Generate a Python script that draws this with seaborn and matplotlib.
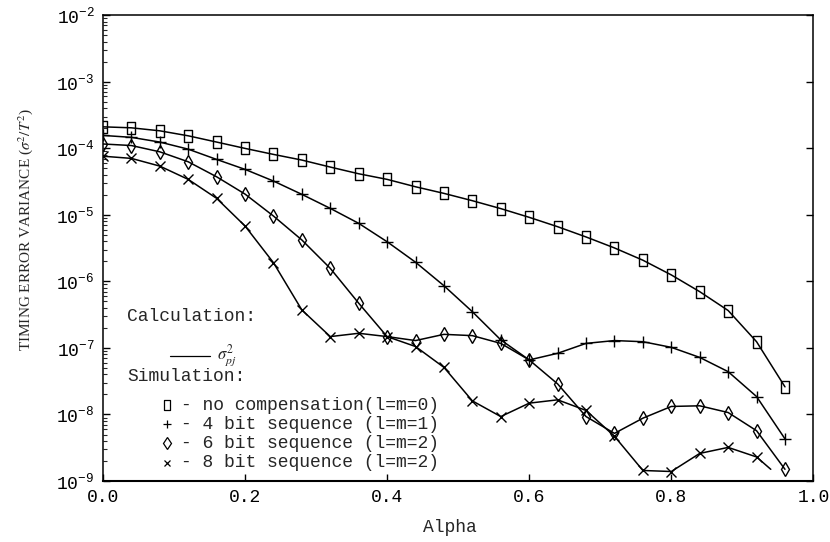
import numpy as np
import pandas as pd
import matplotlib
matplotlib.use('Agg')
import matplotlib.pyplot as plt
from matplotlib.path import Path
from matplotlib.ticker import LogLocator, FixedLocator, NullFormatter
import seaborn as sns

# values
alpha = [0.00, 0.04, 0.08, 0.12, 0.16, 0.20, 0.24, 0.28, 0.32, 0.36,
         0.40, 0.44, 0.48, 0.52, 0.56, 0.60, 0.64, 0.68, 0.72, 0.76,
         0.80, 0.84, 0.88, 0.92, 0.96]

no_comp = [2.10e-4, 2.03e-4, 1.83e-4, 1.54e-4, 1.24e-4, 9.96e-5, 8.09e-5, 6.65e-5,
           5.22e-5, 4.14e-5, 3.41e-5, 2.64e-5, 2.10e-5, 1.63e-5, 1.24e-5, 9.17e-6,
           6.63e-6, 4.65e-6, 3.18e-6, 2.08e-6, 1.25e-6, 7.0e-7, 3.65e-7, 1.24e-7, 2.6e-8]

bit4 = [1.56e-4, 1.46e-4, 1.24e-4, 9.7e-5, 6.8e-5, 4.82e-5, 3.22e-5, 2.03e-5,
        1.25e-5, 7.45e-6, 3.94e-6, 1.94e-6, 8.6e-7, 3.5e-7, 1.32e-7, 6.6e-8,
        8.3e-8, 1.17e-7, 1.29e-7, 1.24e-7, 1.02e-7, 7.2e-8, 4.4e-8, 1.86e-8, 4.3e-9]

bit6 = [1.16e-4, 1.10e-4, 8.85e-5, 6.27e-5, 3.73e-5, 2.05e-5, 9.6e-6, 4.19e-6,
        1.57e-6, 4.7e-7, 1.48e-7, 1.29e-7, 1.6e-7, 1.53e-7, 1.17e-7, 6.6e-8,
        2.88e-8, 9.3e-9, 5.2e-9, 8.8e-9, 1.32e-8, 1.35e-8, 1.07e-8, 5.7e-9, 1.5e-9]

# 8 bit simulation stops at 0.92, its calculated curve runs on to 0.94
bit8 = [7.6e-5, 7.05e-5, 5.4e-5, 3.41e-5, 1.77e-5, 6.8e-6, 1.91e-6, 3.72e-7,
        1.48e-7, 1.66e-7, 1.48e-7, 1.05e-7, 5.1e-8, 1.6e-8, 9.3e-9, 1.48e-8,
        1.66e-8, 1.15e-8, 4.7e-9, 1.44e-9, 1.39e-9, 2.6e-9, 3.2e-9, 2.3e-9]
bit8_calc_end = (0.94, 1.5e-9)

x_ticks = [0.0, 0.2, 0.4, 0.6, 0.8, 1.0]
y_ticks = [1e-9, 1e-8, 1e-7, 1e-6, 1e-5, 1e-4, 1e-3, 1e-2]

labels = ['- no compensation(l=m=0)',
          '- 4 bit sequence (l=m=1)',
          '- 6 bit sequence (l=m=2)',
          '- 8 bit sequence (l=m=2)']

# tall open rectangle like the scanned square marker
rect = Path([(-0.35, -0.5), (0.35, -0.5), (0.35, 0.5), (-0.35, 0.5), (-0.35, -0.5)],
            [Path.MOVETO, Path.LINETO, Path.LINETO, Path.LINETO, Path.CLOSEPOLY])

sns.set_style('ticks')
plt.rcParams['font.family'] = ['Liberation Mono', 'DejaVu Sans']
plt.rcParams['mathtext.fontset'] = 'stix'

fig = plt.figure(figsize=(8.3, 5.42), dpi=100)
ax = fig.add_axes([0.124, 0.1125, 0.856, 0.8595])

series = [
    (alpha, no_comp, alpha, no_comp, rect, 8, 1.0),
    (alpha, bit4, alpha, bit4, '+', 8, 1.0),
    (alpha, bit6, alpha, bit6, 'd', 7.5, 1.0),
    (alpha[:len(bit8)] + [bit8_calc_end[0]], bit8 + [bit8_calc_end[1]],
     alpha[:len(bit8)], bit8, 'x', 7, 1.0),
]

for lx, ly, sx, sy, mk, ms, mew in series:
    calc = pd.DataFrame({'Alpha': lx, 'Var': ly})
    sim = pd.DataFrame({'Alpha': sx, 'Var': sy})
    sns.lineplot(data=calc, x='Alpha', y='Var', color='black', lw=1.1, ax=ax)
    sns.lineplot(data=sim, x='Alpha', y='Var', color='black', ls='none',
                 marker=mk, markersize=ms, markerfacecolor='none',
                 markeredgecolor='black', markeredgewidth=mew, ax=ax)

ax.set_yscale('log')
ax.set_xlim(0, 1.0)
ax.set_ylim(1e-9, 1e-2)
ax.xaxis.set_major_locator(FixedLocator(x_ticks))
ax.set_xticklabels(['%.1f' % t for t in x_ticks])
ax.yaxis.set_major_locator(FixedLocator(y_ticks))
ax.yaxis.set_minor_locator(LogLocator(base=10, subs=np.arange(2, 10), numticks=12))
ax.yaxis.set_minor_formatter(NullFormatter())

ax.tick_params(axis='both', which='major', direction='in', length=5, width=1,
               labelsize=13, colors='black', pad=6)
ax.tick_params(axis='y', which='major', right=True)
ax.tick_params(axis='y', which='minor', direction='in', length=3, width=0.8, right=False)
for s in ax.spines.values():
    s.set_color('black')
    s.set_linewidth(1.1)
ax.spines['bottom'].set_linewidth(1.5)

ax.set_xlabel('Alpha', fontsize=13)
ax.xaxis.label.set_va('center')
ax.xaxis.set_label_coords(0.489, -0.099)
ax.set_ylabel(r'TIMING ERROR VARIANCE ($\sigma^2/T^2$)', fontsize=11,
              family='Liberation Serif')
ax.yaxis.label.set_va('center')
ax.yaxis.set_label_coords(-0.109, 0.54)

# hand-made key, as in the original figure
ax.text(0.034, 0.354, 'Calculation:', transform=ax.transAxes, fontsize=13, va='center')
ax.plot([0.095, 0.151], [0.268, 0.268], color='black', lw=0.9, transform=ax.transAxes)
ax.text(0.160, 0.268, r'$\sigma^2_{pj}$', transform=ax.transAxes,
        fontsize=12, va='center')
ax.text(0.034, 0.224, 'Simulation:', transform=ax.transAxes, fontsize=13, va='center')
key_y = [0.163, 0.122, 0.081, 0.039]
key_mk = [(rect, 6.5), ('+', 6), ('d', 6), ('x', 5)]
for yy, (mk, ms), lab in zip(key_y, key_mk, labels):
    ax.plot([0.090], [yy], marker=mk, markersize=ms, markerfacecolor='none',
            markeredgecolor='black', markeredgewidth=0.9, ls='none',
            transform=ax.transAxes)
    ax.text(0.110, yy, lab, transform=ax.transAxes, fontsize=13, va='center')

fig.savefig('out.png', dpi=100)
